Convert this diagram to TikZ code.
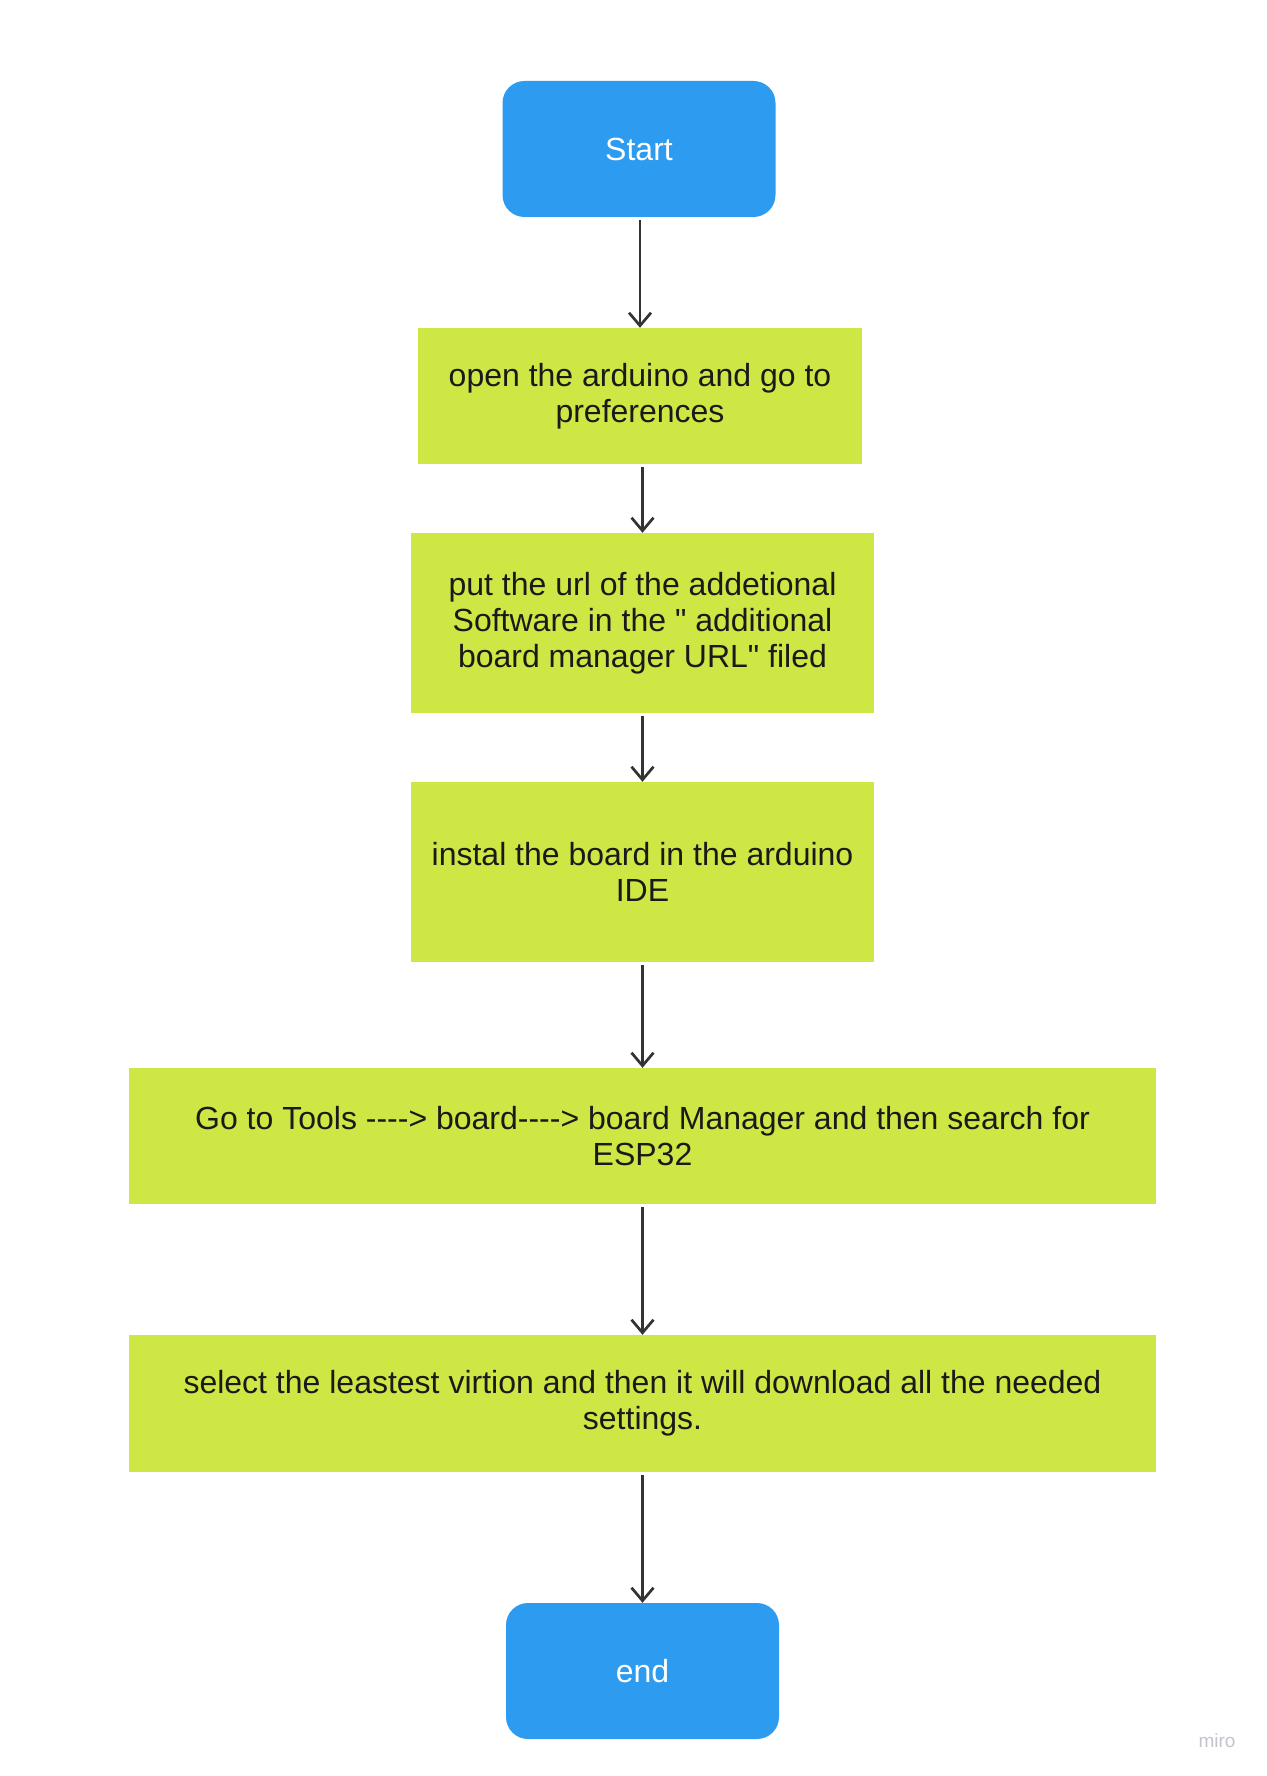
\documentclass[tikz,border=0pt]{standalone}
\usepackage{fontspec}
\setmainfont{Liberation Sans}[Ligatures=TeXOff]
\usetikzlibrary{arrows.meta}
\definecolor{startblue}{HTML}{2D9BF0}
\definecolor{stepgreen}{HTML}{CFE745}
\definecolor{arrowgray}{HTML}{333333}
\definecolor{txt}{HTML}{1A1A1A}
\definecolor{mirogray}{HTML}{C4C4CC}
\begin{document}
\begin{tikzpicture}[x=1pt,y=-1pt,
  terminal/.style={rectangle, rounded corners=22pt, fill=startblue, text=white,
    inner sep=0pt, font=\fontsize{32}{36}\selectfont, align=center,
    minimum width=273pt, minimum height=136pt},
  stepbox/.style={rectangle, fill=stepgreen, text=txt, inner sep=0pt,
    font=\fontsize{32}{36}\selectfont, align=center},
  flow/.style={draw=arrowgray, line width=2.7pt, shorten <=3pt,
    -{Straight Barb[length=13pt,width=22pt]}}]
\useasboundingbox (0,0) rectangle (1266,1776);
\node[terminal] (start) at (639,149) {Start};
\node[stepbox, minimum width=444pt, minimum height=136pt] (s1) at (640,396)
  {open the arduino and go to\\preferences};
\node[stepbox, minimum width=463pt, minimum height=180pt] (s2) at (642.5,623)
  {put the url of the addetional\\Software in the " additional\\board manager URL" filed};
\node[stepbox, minimum width=463pt, minimum height=180pt] (s3) at (642.5,872)
  {instal the board in the arduino\\IDE};
\node[stepbox, minimum width=1027pt, minimum height=136pt] (s4) at (642.5,1136)
  {Go to Tools ----> board----> board Manager and then search for\\ESP32};
\node[stepbox, minimum width=1027pt, minimum height=137pt] (s5) at (642.5,1403.5)
  {select the leastest virtion and then it will download all the needed\\settings.};
\node[terminal] (end) at (642.5,1671) {end};
\node[text=mirogray, font=\fontsize{19}{19}\selectfont, inner sep=0pt] (miro) at (1217,1741) {miro};
\draw[flow] (s1.north |- start.south) -- (s1.north);
\draw[flow] (s2.north |- s1.south) -- (s2.north);
\draw[flow] (s3.north |- s2.south) -- (s3.north);
\draw[flow] (s4.north |- s3.south) -- (s4.north);
\draw[flow] (s5.north |- s4.south) -- (s5.north);
\draw[flow] (end.north |- s5.south) -- (end.north);
\end{tikzpicture}
\end{document}
